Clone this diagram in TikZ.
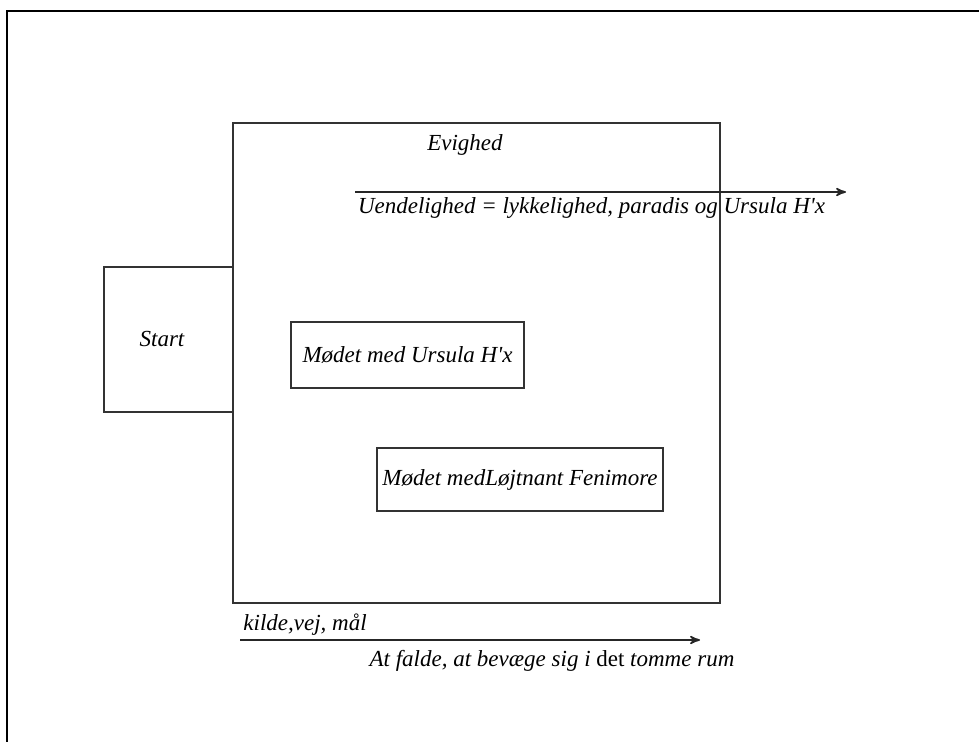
\documentclass[tikz,border=0pt]{standalone}
\usepackage{fontspec}
\setmainfont{Liberation Serif}
\usetikzlibrary{arrows, positioning}

\begin{document}
\begin{tikzpicture}[x=0.5pt,y=-0.5pt,>=stealth',
  box style/.style={
    draw=black!80,
    line width=0.9pt,
    rectangle,
    inner sep=0pt,
    font=\fontsize{11.5}{13}\selectfont\itshape,
  },
  text style/.style={
    inner sep=0pt,
    font=\fontsize{11.5}{13}\selectfont\itshape,
  },
  line style/.style={
    black!85,
    line width=0.8pt,
  }
]
\useasboundingbox (0,0) rectangle (979,742);

% frame
\draw[black, line width=1pt] (979,11) -- (7,11) -- (7,742);

\node[box style, minimum width=243.5pt, minimum height=240pt] (evighed) at (476.5,363) {};
\node[text style] (evighedlabel) at (465,145) {Evighed};

\node[box style, minimum width=64.5pt, minimum height=72.5pt] (start) at (168.5,339.5) {\hspace*{-6.5pt}Start};

\node[box style, minimum width=116.5pt, minimum height=33pt] (ursula) at (407.5,355) {Mødet med Ursula H\textquotesingle x};

\node[box style, minimum width=143pt, minimum height=31.5pt] (fenimore) at (520,479.5) {Mødet medLøjtnant Fenimore};

% uendelighed
\coordinate (uendA) at (355,192);
\coordinate (uendB) at (846,192);
\draw[line style,->] (uendA) -- (uendB);
\node[text style] (uendelighed) at (591.5,208) {Uendelighed = lykkelighed, paradis og Ursula H\textquotesingle x};

% kilde, vej, maal
\coordinate (kildeA) at (240,640);
\coordinate (kildeB) at (700,640);
\draw[line style,->] (kildeA) -- (kildeB);
\node[text style, anchor=west] (kilde) at (243,625) {kilde,vej, mål};
\node[text style] (falde) at (552,661) {At falde, at bevæge sig i \upshape det \itshape tomme rum};

\end{tikzpicture}
\end{document}
